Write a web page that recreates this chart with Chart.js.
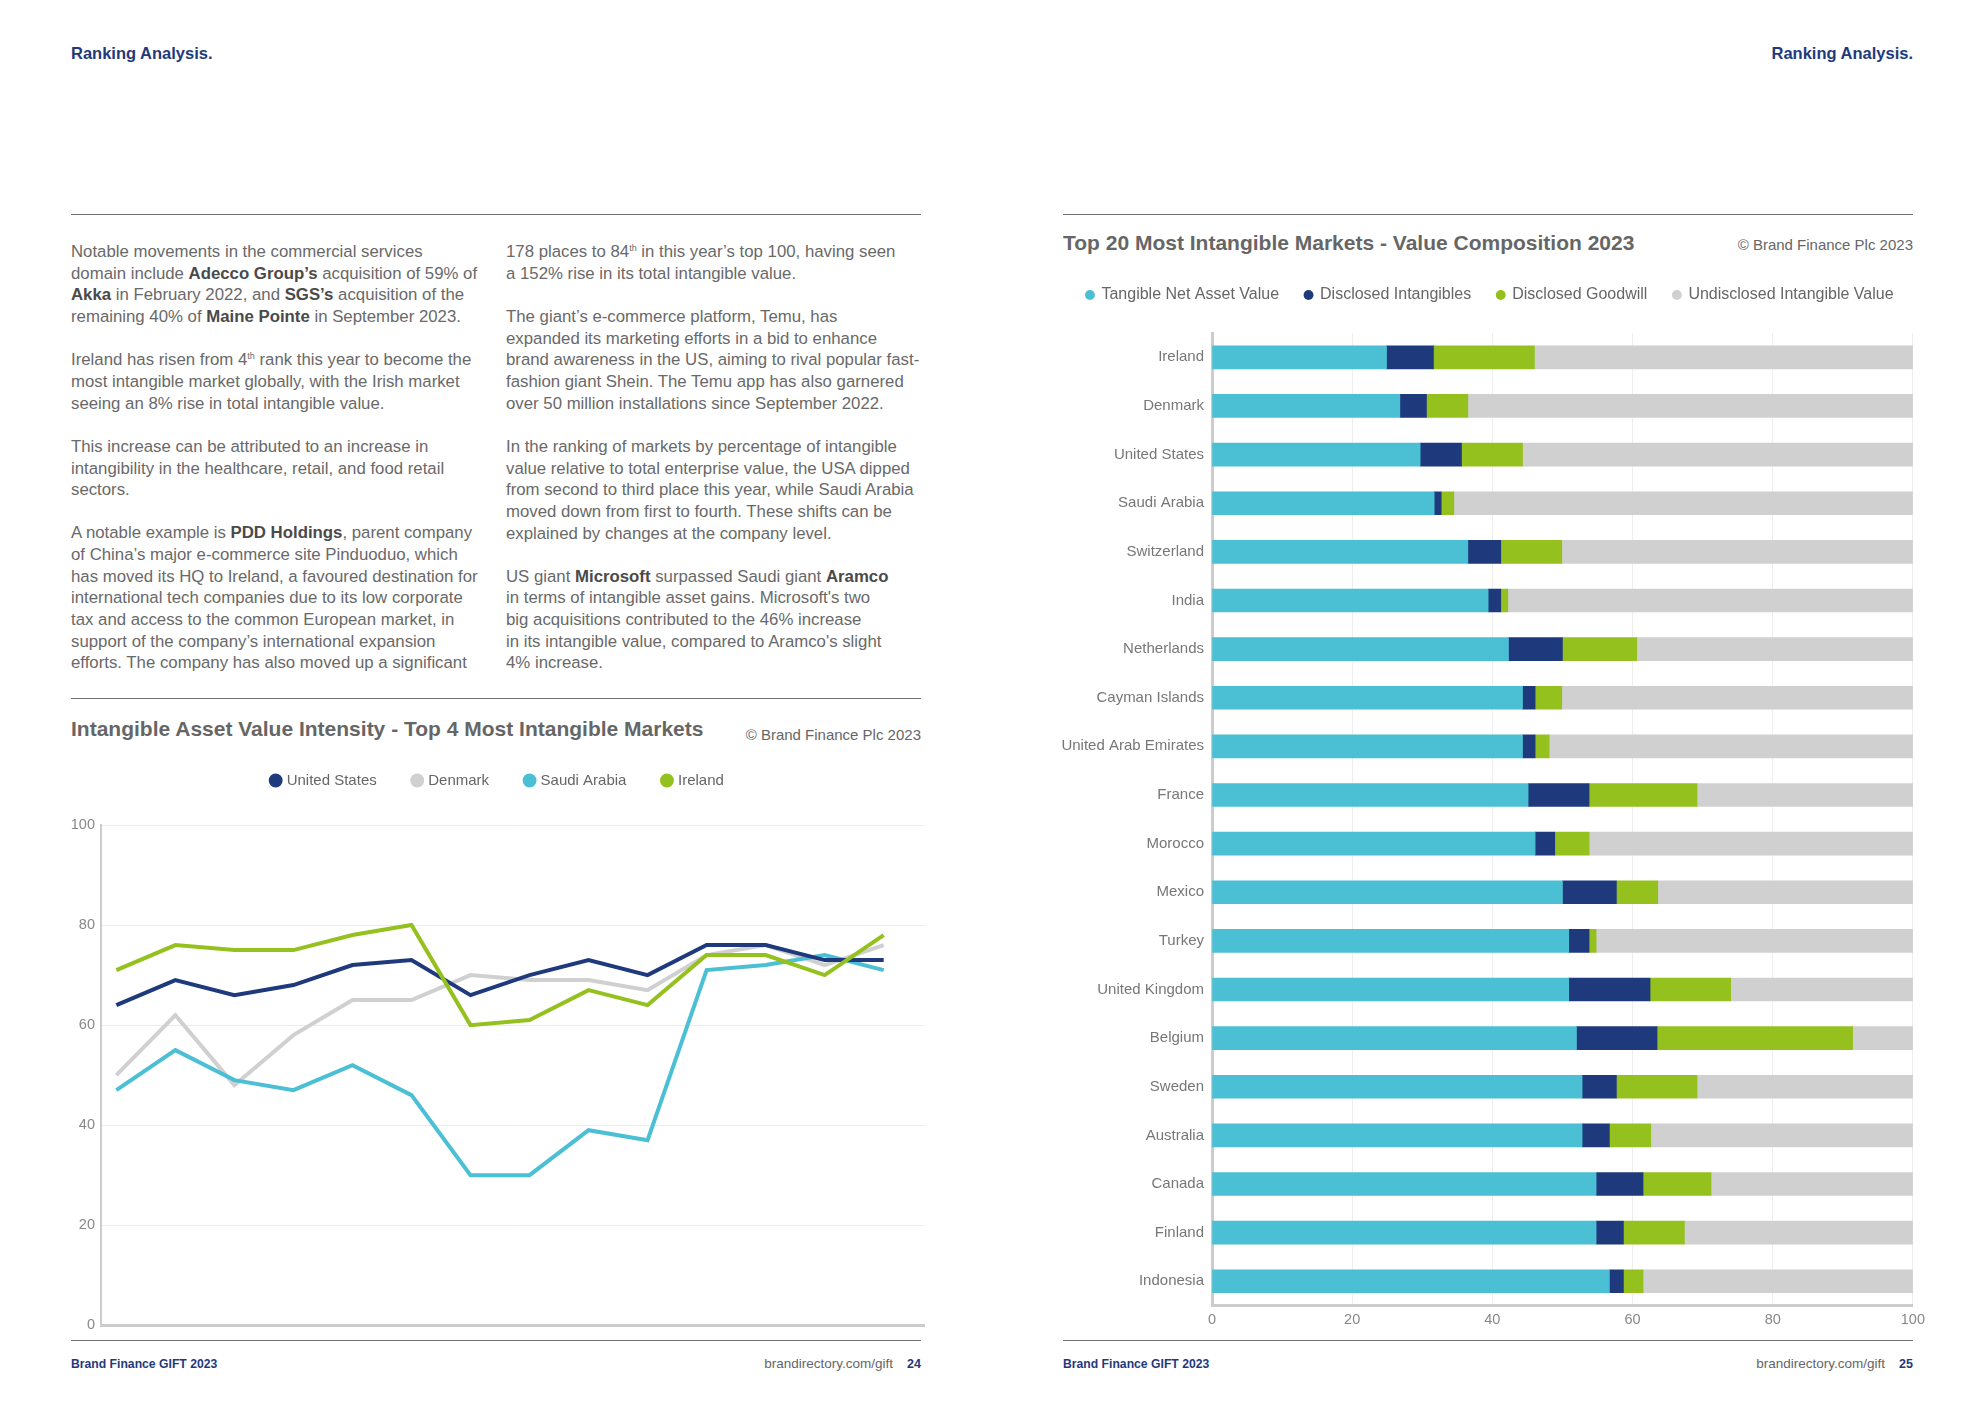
<!DOCTYPE html>
<html>
<head>
<meta charset="utf-8">
<title>Ranking Analysis</title>
<script src="https://cdn.jsdelivr.net/npm/chart.js@4.4.0/dist/chart.umd.min.js"></script>
<style>
    html, body { margin: 0; padding: 0; background: #fff; }
    body {
        width: 1984px; height: 1403px; position: relative; overflow: hidden;
        font-family: "Liberation Sans", Arial, sans-serif; color: #666;
    }
    .abs { position: absolute; white-space: nowrap; line-height: 20px; }
    .header { top: 43px; font-size: 16.5px; font-weight: bold; color: #1f3a7c; }
    .rule { position: absolute; height: 0; border-top: 1.5px solid #707070; }
    .col { position: absolute; top: 241px; font-size: 16.8px; line-height: 21.65px; color: #696969; }
    .col p { margin: 0 0 21.65px 0; white-space: nowrap; }
    .col b { color: #4a4a4a; }
    sup { font-size: 9px; line-height: 0; vertical-align: 6px; }
    .title { font-size: 21px; font-weight: bold; color: #666; line-height: 24px; }
    .copy { font-size: 15px; color: #666; }
    .foot-l { top: 1354px; font-size: 12.2px; font-weight: bold; color: #1f3a7c; }
    .foot-r { top: 1354px; font-size: 13.5px; color: #666; }
    .foot-r b { color: #1f3a7c; margin-left: 14px; font-size: 12.5px; }
    canvas { position: absolute; }
</style>
</head>
<body>

<!-- Page headers -->
<div class="abs header" style="left:71px;">Ranking Analysis.</div>
<div class="abs header" style="right:71px;">Ranking Analysis.</div>
<div class="rule" style="left:71px; width:850px; top:214px;"></div>
<div class="rule" style="left:1063px; width:850px; top:214px;"></div>

<!-- Left page text -->
<div class="col" style="left:71px;">
    <p>Notable movements in the commercial services<br>
    domain include <b>Adecco Group’s</b> acquisition of 59% of<br>
    <b>Akka</b> in February 2022, and <b>SGS’s</b> acquisition of the<br>
    remaining 40% of <b>Maine Pointe</b> in September 2023.</p>
    <p>Ireland has risen from 4<sup>th</sup> rank this year to become the<br>
    most intangible market globally, with the Irish market<br>
    seeing an 8% rise in total intangible value.</p>
    <p>This increase can be attributed to an increase in<br>
    intangibility in the healthcare, retail, and food retail<br>
    sectors.</p>
    <p>A notable example is <b>PDD Holdings</b>, parent company<br>
    of China’s major e-commerce site Pinduoduo, which<br>
    has moved its HQ to Ireland, a favoured destination for<br>
    international tech companies due to its low corporate<br>
    tax and access to the common European market, in<br>
    support of the company’s international expansion<br>
    efforts. The company has also moved up a significant</p>
</div>
<div class="col" style="left:506px;">
    <p>178 places to 84<sup>th</sup> in this year’s top 100, having seen<br>
    a 152% rise in its total intangible value.</p>
    <p>The giant’s e-commerce platform, Temu, has<br>
    expanded its marketing efforts in a bid to enhance<br>
    brand awareness in the US, aiming to rival popular fast-<br>
    fashion giant Shein. The Temu app has also garnered<br>
    over 50 million installations since September 2022.</p>
    <p>In the ranking of markets by percentage of intangible<br>
    value relative to total enterprise value, the USA dipped<br>
    from second to third place this year, while Saudi Arabia<br>
    moved down from first to fourth. These shifts can be<br>
    explained by changes at the company level.</p>
    <p>US giant <b>Microsoft</b> surpassed Saudi giant <b>Aramco</b><br>
    in terms of intangible asset gains. Microsoft's two<br>
    big acquisitions contributed to the 46% increase<br>
    in its intangible value, compared to Aramco's slight<br>
    4% increase.</p>
</div>
<div class="rule" style="left:71px; width:850px; top:698px;"></div>

<!-- Chart titles -->
<div class="abs title" style="left:71px; top:717px;">Intangible Asset Value Intensity - Top 4 Most Intangible Markets</div>
<div class="abs copy" style="right:1063px; top:725px;">© Brand Finance Plc 2023</div>
<div class="abs title" style="left:1063px; top:231px;">Top 20 Most Intangible Markets - Value Composition 2023</div>
<div class="abs copy" style="right:71px; top:235px;">© Brand Finance Plc 2023</div>

<canvas id="intensityChart" width="854" height="604" style="left:71px; top:736px;"></canvas>
<canvas id="compositionChart" width="882" height="1074" style="left:1049px; top:261px;"></canvas>

<!-- Footers -->
<div class="rule" style="left:71px; width:850px; top:1340px;"></div>
<div class="rule" style="left:1063px; width:850px; top:1340px;"></div>
<div class="abs foot-l" style="left:71px;">Brand Finance GIFT 2023</div>
<div class="abs foot-r" style="right:1063px;">brandirectory.com/gift<b>24</b></div>
<div class="abs foot-l" style="left:1063px;">Brand Finance GIFT 2023</div>
<div class="abs foot-r" style="right:71px;">brandirectory.com/gift<b>25</b></div>

<script>
// Line chart data (intangible share of enterprise value, %)
const usValues      = [64, 69, 66, 68, 72, 73, 66, 70, 73, 70, 76, 76, 73, 73];
const denmarkValues = [50, 62, 48, 58, 65, 65, 70, 69, 69, 67, 74, 76, 72, 76];
const saudiValues   = [47, 55, 49, 47, 52, 46, 30, 30, 39, 37, 71, 72, 74, 71];
const irelandValues = [71, 76, 75, 75, 78, 80, 60, 61, 67, 64, 74, 74, 70, 78];
const intensityTicks = [0, 20, 40, 60, 80, 100];

// Bar chart data (value composition, %)
const markets = ['Ireland', 'Denmark', 'United States', 'Saudi Arabia', 'Switzerland', 'India',
    'Netherlands', 'Cayman Islands', 'United Arab Emirates', 'France', 'Morocco', 'Mexico',
    'Turkey', 'United Kingdom', 'Belgium', 'Sweden', 'Australia', 'Canada', 'Finland', 'Indonesia'];
const tangibleNet          = [24.9, 26.8, 29.7, 31.7, 36.5, 39.4, 42.3, 44.3, 44.3, 45.1, 46.1, 50.0, 50.9, 50.9, 52.0, 52.8, 52.8, 54.8, 54.8, 56.7];
const disclosedIntangibles = [6.7, 3.8, 5.9, 1.0, 4.7, 1.8, 7.7, 1.8, 1.8, 8.7, 2.8, 7.7, 2.9, 11.6, 11.5, 4.9, 3.9, 6.7, 3.9, 2.0];
const disclosedGoodwill    = [14.4, 5.9, 8.7, 1.8, 8.7, 1.0, 10.6, 3.8, 2.0, 15.4, 4.9, 5.9, 1.0, 11.5, 27.9, 11.5, 5.9, 9.7, 8.7, 2.8];
const undisclosedValue     = [54.0, 63.5, 55.7, 65.5, 50.1, 57.8, 39.4, 50.1, 51.9, 30.8, 46.2, 36.4, 45.2, 26.0, 8.6, 30.8, 37.4, 28.8, 32.6, 38.5];
const compositionTicks = [0, 20, 40, 60, 80, 100];

const NAVY = '#1f3a7c';
const GREY = '#d0d0d0';
const CYAN = '#4bbfd4';
const GREEN = '#95c11f';
const FONT = '"Liberation Sans", Arial, sans-serif';

document.addEventListener('DOMContentLoaded', function() {
    initializeIntensityChart();
    initializeCompositionChart();
});

// Keeps the legend block a fixed height so the plot starts where it should
function legendSpacer(height) {
    return {
        id: 'legendSpacer',
        beforeInit(chart) {
            const originalFit = chart.legend.fit;
            chart.legend.fit = function() {
                originalFit.call(this);
                this.height = height;
            };
        }
    };
}

function toPoints(values) {
    return values.map((v, i) => ({ x: i, y: v }));
}

function lineSet(label, values, color, order) {
    return {
        label: label,
        data: toPoints(values),
        borderColor: color,
        backgroundColor: color,
        borderWidth: 4,
        pointRadius: 0,
        tension: 0,
        order: order
    };
}

function initializeIntensityChart() {
    const ctx = document.getElementById('intensityChart').getContext('2d');
    new Chart(ctx, {
        type: 'line',
        data: {
            datasets: [
                lineSet('United States', usValues, NAVY, 2),
                lineSet('Denmark', denmarkValues, GREY, 4),
                lineSet('Saudi Arabia', saudiValues, CYAN, 3),
                lineSet('Ireland', irelandValues, GREEN, 1)
            ]
        },
        options: {
            responsive: false,
            animation: false,
            devicePixelRatio: 1,
            layout: { padding: 0 },
            plugins: {
                legend: {
                    position: 'top',
                    labels: {
                        usePointStyle: true,
                        pointStyle: 'circle',
                        boxWidth: 7,
                        boxHeight: 7,
                        padding: 37,
                        color: '#666',
                        font: { family: FONT, size: 15 },
                        sort: (a, b) => a.datasetIndex - b.datasetIndex
                    }
                },
                tooltip: { enabled: false }
            },
            scales: {
                x: {
                    type: 'linear',
                    min: -0.26,
                    max: 13.7,
                    ticks: { display: false },
                    grid: { display: false, drawTicks: false },
                    border: { color: '#cccccc', width: 3 }
                },
                y: {
                    min: 0,
                    max: 100,
                    afterFit: scale => { scale.width = 30; },
                    afterBuildTicks: scale => { scale.ticks = intensityTicks.map(v => ({ value: v })); },
                    ticks: { color: '#888', padding: 6, font: { family: FONT, size: 14.5 } },
                    grid: { color: '#ececec', drawTicks: false },
                    border: { color: '#cccccc', width: 2 }
                }
            }
        },
        plugins: [legendSpacer(89)]
    });
}

function barSet(label, values, color) {
    return {
        label: label,
        data: values,
        backgroundColor: color,
        borderWidth: 0,
        barThickness: 23
    };
}

function initializeCompositionChart() {
    const ctx = document.getElementById('compositionChart').getContext('2d');
    new Chart(ctx, {
        type: 'bar',
        data: {
            labels: markets,
            datasets: [
                barSet('Tangible Net Asset Value', tangibleNet, CYAN),
                barSet('Disclosed Intangibles', disclosedIntangibles, NAVY),
                barSet('Disclosed Goodwill', disclosedGoodwill, GREEN),
                barSet('Undisclosed Intangible Value', undisclosedValue, GREY)
            ]
        },
        options: {
            indexAxis: 'y',
            responsive: false,
            animation: false,
            devicePixelRatio: 1,
            plugins: {
                legend: {
                    position: 'top',
                    labels: {
                        usePointStyle: true,
                        pointStyle: 'circle',
                        boxWidth: 7,
                        boxHeight: 7,
                        padding: 26,
                        color: '#666',
                        font: { family: FONT, size: 16 }
                    }
                },
                tooltip: { enabled: false }
            },
            scales: {
                x: {
                    stacked: true,
                    min: 0,
                    max: 100,
                    afterBuildTicks: scale => { scale.ticks = compositionTicks.map(v => ({ value: v })); },
                    ticks: { color: '#888', padding: 6, font: { family: FONT, size: 14.5 } },
                    grid: { color: '#eeeeee', drawTicks: false },
                    border: { color: '#cccccc', width: 3 }
                },
                y: {
                    stacked: true,
                    afterFit: scale => { scale.width = 163; },
                    ticks: { color: '#777', padding: 8, font: { family: FONT, size: 15 } },
                    grid: { display: false, drawTicks: false },
                    border: { color: '#cccccc', width: 3 }
                }
            }
        },
        plugins: [legendSpacer(72)]
    });
}
</script>
</body>
</html>
